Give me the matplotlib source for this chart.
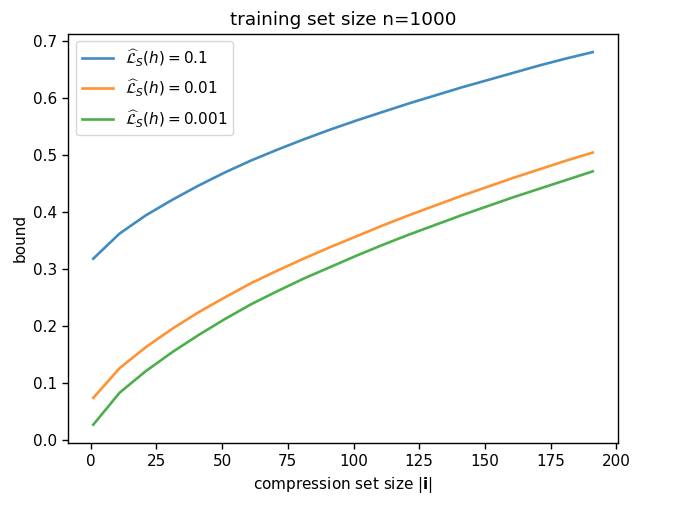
import matplotlib
matplotlib.use("Agg")
import matplotlib.pyplot as plt

x = [1, 11, 21, 31, 41, 51, 61, 71, 81, 91, 101, 111, 121, 131, 141, 151, 161, 171, 181, 191]
bound_01 = [0.318, 0.362, 0.394, 0.421, 0.446, 0.469, 0.490, 0.509, 0.527, 0.544,
            0.560, 0.575, 0.590, 0.604, 0.618, 0.631, 0.644, 0.657, 0.669, 0.680]
bound_001 = [0.074, 0.126, 0.163, 0.195, 0.224, 0.250, 0.275, 0.297, 0.318, 0.338,
             0.357, 0.376, 0.394, 0.411, 0.428, 0.444, 0.460, 0.475, 0.490, 0.504]
bound_0001 = [0.027, 0.083, 0.121, 0.154, 0.184, 0.212, 0.238, 0.261, 0.283, 0.303,
              0.323, 0.342, 0.360, 0.377, 0.394, 0.410, 0.426, 0.441, 0.456, 0.471]
labels = [r"$\widehat{\mathcal{L}}_S(h) = 0.1$",
          r"$\widehat{\mathcal{L}}_S(h) = 0.01$",
          r"$\widehat{\mathcal{L}}_S(h) = 0.001$"]

fs = 11
fig = plt.figure(figsize=(6.9, 5.07), dpi=100)
ax = fig.add_axes([0.099, 0.1256, 0.7962, 0.8083])
for ys, lab in zip([bound_01, bound_001, bound_0001], labels):
    ax.plot(x, ys, label=lab, alpha=0.85, lw=1.9)
ax.set_title("training set size n=1000", fontsize=fs * 1.2)
ax.set_xlabel(r"compression set size $|\mathbf{i}|$", fontsize=fs)
ax.set_ylabel("bound", fontsize=fs)
ax.tick_params(labelsize=fs, length=4.5, width=1.0)
for s in ax.spines.values():
    s.set_linewidth(1.0)
ax.legend(loc="upper left", fontsize=fs, labelspacing=0.62)
fig.savefig("out.png", dpi=100)
